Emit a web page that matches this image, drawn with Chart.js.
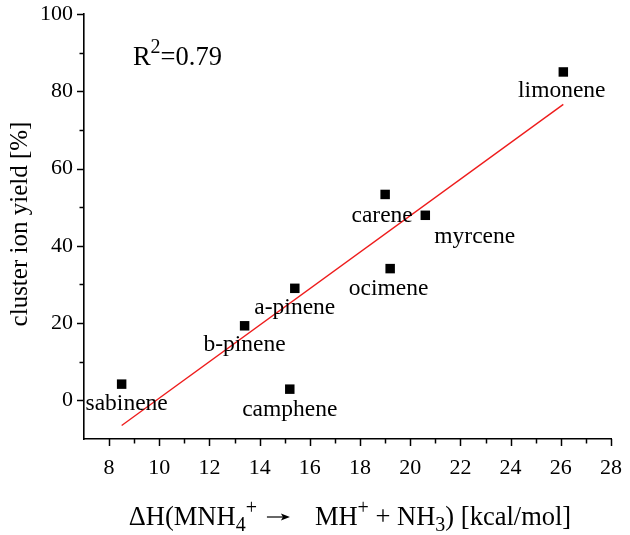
<!DOCTYPE html>
<html>
<head>
<meta charset="utf-8">
<script src="https://cdn.jsdelivr.net/npm/chart.js@4/dist/chart.umd.min.js"></script>
<style>
html,body{margin:0;padding:0;background:#fff;}
#wrap{width:630px;height:535px;}
</style>
</head>
<body>
<div id="wrap"><canvas id="c" width="630" height="535"></canvas></div>
<script>
// ---- data ----
const compounds = ['sabinene','camphene','b-pinene','a-pinene','carene','myrcene','ocimene','limonene'];
const deltaH = [8.5, 15.2, 13.4, 15.4, 19.0, 20.6, 19.2, 26.1];
const clusterYield = [4.2, 2.9, 19.3, 29.0, 53.3, 47.9, 34.1, 85.0];
const fitLineX = [8.5, 26.1];
const fitLineY = [-6.5, 76.6];
const xTickValues = [8, 10, 12, 14, 16, 18, 20, 22, 24, 26, 28];
const yTickValues = [0, 20, 40, 60, 80, 100];
const xMinorTicks = [9, 11, 13, 15, 17, 19, 21, 23, 25, 27];
const yMinorTicks = [10, 30, 50, 70, 90];
const r2Value = '0.79';
const r2Position = [8.95, 86.8];

// ---- styles / label placement (pixel offsets from each marker) ----
const FONT = '"Liberation Serif", "Times New Roman", serif';
const labelOffsets = {
  'sabinene': [5, 20, 'center'],
  'camphene': [0, 21, 'center'],
  'b-pinene': [0, 19, 'center'],
  'a-pinene': [0, 20, 'center'],
  'carene':   [-3, 21, 'center'],
  'myrcene':  [9, 22, 'left'],
  'ocimene':  [-1.5, 20, 'center'],
  'limonene': [-1.5, 19, 'center']
};

const annotPlugin = {
  id: 'annot',
  afterDraw(chart) {
    const ctx = chart.ctx;
    const xs = chart.scales.x, ys = chart.scales.y;
    const ca = chart.chartArea;
    ctx.save();
    // ticks
    ctx.strokeStyle = '#000';
    ctx.lineWidth = 1.5;
    const drawXT = (v, len) => {
      const px = Math.round(xs.getPixelForValue(v)) + 0.5;
      ctx.beginPath(); ctx.moveTo(px, ca.bottom); ctx.lineTo(px, ca.bottom + len); ctx.stroke();
    };
    const drawYT = (v, len) => {
      const py = Math.round(ys.getPixelForValue(v)) + 0.5;
      ctx.beginPath(); ctx.moveTo(ca.left, py); ctx.lineTo(ca.left - len, py); ctx.stroke();
    };
    xTickValues.forEach(v => drawXT(v, 7));
    xMinorTicks.forEach(v => drawXT(v, 4.5));
    yTickValues.forEach(v => drawYT(v, 7));
    yMinorTicks.forEach(v => drawYT(v, 4.5));

    // point labels
    ctx.fillStyle = '#000';
    ctx.font = '23.5px ' + FONT;
    ctx.textBaseline = 'middle';
    compounds.forEach((n, i) => {
      const px = xs.getPixelForValue(deltaH[i]);
      const py = ys.getPixelForValue(clusterYield[i]);
      const o = labelOffsets[n];
      ctx.textAlign = o[2];
      ctx.fillText(n, px + o[0], py + o[1]);
    });

    // R^2 annotation
    ctx.textAlign = 'left';
    ctx.textBaseline = 'alphabetic';
    let rx = xs.getPixelForValue(r2Position[0]);
    const ry = ys.getPixelForValue(r2Position[1]);
    ctx.font = '26.5px ' + FONT;
    ctx.fillText('R', rx, ry);
    rx += ctx.measureText('R').width;
    ctx.font = '20px ' + FONT;
    ctx.fillText('2', rx, ry - 12);
    rx += ctx.measureText('2').width;
    ctx.font = '26.5px ' + FONT;
    ctx.fillText('=' + r2Value, rx, ry);

    // y axis title
    ctx.save();
    ctx.translate(20, 224);
    ctx.rotate(-Math.PI / 2);
    ctx.font = '25px ' + FONT;
    ctx.textAlign = 'center';
    ctx.textBaseline = 'middle';
    ctx.fillText('cluster ion yield [%]', 0, 0);
    ctx.restore();

    // x axis title with sub/superscripts and arrow
    const segs = [
      {t: 'ΔH(MNH', k: 'n'}, {t: '4', k: 'sub'}, {t: '+', k: 'sup'},
      {g: 10}, {k: 'arrow'}, {g: 25}, {t: 'MH', k: 'n'}, {t: '+', k: 'sup'},
      {t: ' + NH', k: 'n'}, {t: '3', k: 'sub'}, {t: ') [kcal/mol]', k: 'n'}
    ];
    const fontFor = k => (k === 'n' ? '26.5px ' : '20px ') + FONT;
    const arrowW = 23;
    let total = 0;
    segs.forEach(s => {
      if (s.g !== undefined) { s.w = s.g; }
      else if (s.k === 'arrow') { s.w = arrowW; }
      else { ctx.font = fontFor(s.k); s.w = ctx.measureText(s.t).width; }
      total += s.w;
    });
    let tx = 350 - total / 2;
    const base = 525;
    ctx.textAlign = 'left';
    ctx.textBaseline = 'alphabetic';
    segs.forEach(s => {
      if (s.g !== undefined) { /* gap */ }
      else if (s.k === 'arrow') {
        const ay = base - 8;
        ctx.lineWidth = 1.2;
        ctx.beginPath(); ctx.moveTo(tx, ay); ctx.lineTo(tx + arrowW - 6, ay); ctx.stroke();
        ctx.beginPath(); ctx.moveTo(tx + arrowW, ay); ctx.lineTo(tx + arrowW - 9, ay - 3.5);
        ctx.lineTo(tx + arrowW - 7, ay); ctx.lineTo(tx + arrowW - 9, ay + 3.5); ctx.closePath(); ctx.fill();
      } else {
        ctx.font = fontFor(s.k);
        let dy = 0;
        if (s.k === 'sub') dy = 6;
        if (s.k === 'sup') dy = -11;
        ctx.fillText(s.t, tx, base + dy);
      }
      tx += s.w;
    });
    ctx.restore();
  }
};

new Chart(document.getElementById('c'), {
  type: 'scatter',
  data: {
    datasets: [
      {
        label: 'data',
        data: deltaH.map((x, i) => ({x: x, y: clusterYield[i]})),
        pointStyle: 'rect',
        pointRadius: 6.7,
        pointHoverRadius: 6.7,
        backgroundColor: '#000',
        borderColor: '#000',
        borderWidth: 0,
        order: 1
      },
      {
        label: 'fit',
        type: 'line',
        data: fitLineX.map((x, i) => ({x: x, y: fitLineY[i]})),
        borderColor: '#ee1c1c',
        borderWidth: 1.4,
        pointRadius: 0,
        fill: false,
        order: 2
      }
    ]
  },
  options: {
    responsive: false,
    animation: false,
    devicePixelRatio: 1,
    layout: {padding: {top: 0, right: 1, left: 0, bottom: 0}},
    plugins: {legend: {display: false}, tooltip: {enabled: false}},
    scales: {
      x: {
        type: 'linear', min: 7, max: 28,
        afterBuildTicks: s => { s.ticks = xTickValues.map(v => ({value: v})); },
        afterFit: s => { s.height = 96; },
        grid: {display: false},
        border: {display: true, color: '#000', width: 1.6},
        ticks: {color: '#000', font: {family: FONT, size: 22}, padding: 8, maxRotation: 0, autoSkip: false}
      },
      y: {
        type: 'linear', min: -10, max: 100,
        afterBuildTicks: s => { s.ticks = yTickValues.map(v => ({value: v})); },
        afterFit: s => { s.width = 84; },
        grid: {display: false},
        border: {display: true, color: '#000', width: 1.6},
        ticks: {color: '#000', font: {family: FONT, size: 22, lineHeight: 1.0}, padding: 3, autoSkip: false}
      }
    }
  },
  plugins: [annotPlugin]
});
</script>
</body>
</html>
